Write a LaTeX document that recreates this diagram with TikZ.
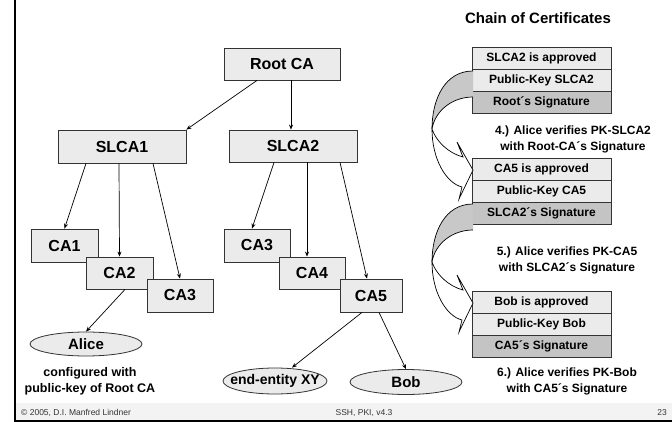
\documentclass[tikz,border=0pt]{standalone}
\usepackage{fontspec}
\setmainfont{Liberation Sans}
\usetikzlibrary{arrows.meta,shapes.geometric,calc}
\definecolor{boxfill}{HTML}{EBEBEB}
\definecolor{sigfill}{HTML}{C4C4C4}
\definecolor{bandgray}{HTML}{C8C8C8}
\definecolor{footgray}{HTML}{F3F3F3}
\newcommand{\certcurve}[1]{%
\begin{scope}[shift={(0,#1)}]
\filldraw[fill=bandgray, draw=black, line width=0.7pt] (473,0) .. controls (445,0) and (432,28) .. (432,58) .. controls (435,40) and (452,26) .. (473,26);
\filldraw[fill=white, draw=black, line width=0.7pt] (432,58) .. controls (432,88) and (446,112) .. (462,116) -- (459,128) -- (473,99) -- (457,71) -- (463,86) .. controls (448,82) and (436,70) .. (432,58) -- cycle;
\end{scope}}
\begin{document}
\begin{tikzpicture}[x=1pt,y=-1pt,
  cabox/.style={draw=black!80, fill=boxfill, line width=0.8pt, inner sep=0pt, font=\bfseries\fontsize{16}{19}\selectfont},
  ent/.style={ellipse, draw=black!80, fill=boxfill, line width=0.8pt, inner sep=0pt, font=\bfseries\fontsize{15}{18}\selectfont},
  arr/.style={-{Stealth[length=5pt,width=4pt]}, line width=0.7pt},
  row/.style={draw=black!80, fill=boxfill, line width=0.8pt, inner sep=0pt, minimum width=139pt, minimum height=22pt, font=\bfseries\fontsize{12}{14}\selectfont},
  sigrow/.style={row, fill=sigfill},
  steptext/.style={align=center, inner sep=0pt, font=\bfseries\fontsize{12}{16}\selectfont},
  foot/.style={inner sep=0pt, font=\fontsize{8.5}{10}\selectfont, text=black!80}
]
\useasboundingbox (0,0) rectangle (672,422);
% frame and footer
\fill[footgray] (15,403) rectangle (672,420);
\draw[line width=1.5pt] (15,0) -- (15,422);
\draw[line width=1.5pt] (15,421.2) -- (672,421.2);
\node[foot, anchor=west] (copy) at (21,413) {© 2005, D.I. Manfred Lindner};
\node[foot] (ver) at (364,413) {SSH, PKI, v4.3};
\node[foot, anchor=east] (pg) at (667,413) {23};

% tree
\node[cabox, minimum width=116pt, minimum height=32pt] (root) at (282,64) {Root CA};
\node[cabox, minimum width=128pt, minimum height=33pt] (slca1) at (122,146.5) {SLCA1};
\node[cabox, minimum width=128pt, minimum height=32pt] (slca2) at (293,146) {SLCA2};
\node[cabox, minimum width=67pt, minimum height=33pt] (ca1) at (64.5,245.5) {CA1};
\node[cabox, minimum width=67pt, minimum height=32pt] (ca2) at (119.5,273) {CA2};
\node[cabox, minimum width=66pt, minimum height=33pt] (ca3a) at (180,295.5) {CA3};
\node[cabox, minimum width=66pt, minimum height=33pt] (ca3b) at (257,245.5) {CA3};
\node[cabox, minimum width=66pt, minimum height=32pt] (ca4) at (312,273) {CA4};
\node[cabox, minimum width=62pt, minimum height=33pt] (ca5) at (371,295.5) {CA5};
\node[ent, minimum width=112pt, minimum height=24pt] (alice) at (86,344) {\makebox[0pt]{Alice}};
\node[ent, minimum width=104pt, minimum height=26pt, font=\bfseries\fontsize{14}{17}\selectfont] (ee) at (275,381) {\makebox[0pt]{end-entity XY}};
\node[ent, minimum width=112pt, minimum height=25pt] (bob) at (406,382) {\makebox[0pt]{Bob}};
\node[align=center, inner sep=0pt, font=\bfseries\fontsize{12.5}{16}\selectfont] (conf) at (90,381) {configured with\\public-key of Root CA};

\draw[arr] ([xshift=-25pt]root.south) -- (slca1.north east);
\draw[arr] ([xshift=9pt]root.south) -- ([xshift=-2pt]slca2.north);
\draw[arr] ([xshift=-36pt]slca1.south) -- (ca1.north);
\draw[arr] ([xshift=-3pt]slca1.south) -- (ca2.north);
\draw[arr] ([xshift=31pt]slca1.south) -- (ca3a.north);
\draw[arr] ([xshift=-19pt]slca2.south) -- ([xshift=-5pt]ca3b.north);
\draw[arr] ([xshift=14pt]slca2.south) -- ([xshift=-5pt]ca4.north);
\draw[arr] ([xshift=47pt]slca2.south) -- ([xshift=-4pt]ca5.north);
\draw[arr] ([xshift=5.5pt]ca2.south) -- (alice.north);
\draw[arr] ([xshift=-9pt]ca5.south) -- ([xshift=17pt]ee.north);
\draw[arr] ([xshift=8pt]ca5.south) -- (bob.north);

% chain of certificates
\node[inner sep=0pt, font=\bfseries\fontsize{15}{18}\selectfont] (title) at (538,18) {Chain of Certificates};
\node[row] (c1a) at (541.5,58) {SLCA2 is approved};
\node[row] (c1b) at (541.5,80) {Public-Key SLCA2};
\node[sigrow] (c1c) at (541.5,102) {Root´s Signature};
\node[row] (c2a) at (541.5,169) {CA5 is approved};
\node[row] (c2b) at (541.5,191) {Public-Key CA5};
\node[sigrow] (c2c) at (541.5,213) {SLCA2´s Signature};
\node[row] (c3a) at (541.5,302) {Bob is approved};
\node[row] (c3b) at (541.5,324) {Public-Key Bob};
\node[sigrow] (c3c) at (541.5,346) {CA5´s Signature};
\certcurve{71}
\certcurve{204}
\node[steptext] (s4) at (573,139) {4.) Alice verifies PK-SLCA2\\with Root-CA´s Signature};
\node[steptext] (s5) at (567,260) {5.) Alice verifies PK-CA5\\with SLCA2´s Signature};
\node[steptext] (s6) at (567,381) {6.) Alice verifies PK-Bob\\with CA5´s Signature};
\end{tikzpicture}
\end{document}
